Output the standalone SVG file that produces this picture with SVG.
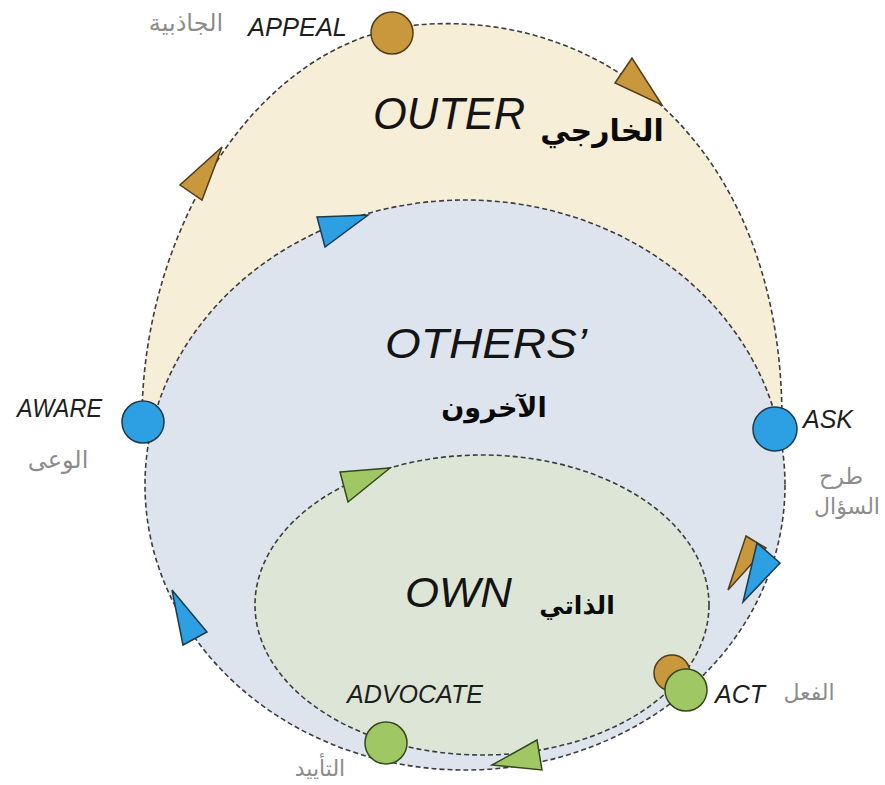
<svg xmlns="http://www.w3.org/2000/svg" width="885" height="785" viewBox="0 0 885 785">
  <style>
    .dash { fill: none; stroke: #3d3d3d; stroke-width: 1.6; stroke-dasharray: 5 3; }
    .lbl { font-family: "Liberation Sans", Arial, sans-serif; font-style: italic; fill: #1e1e1e; }
    .big { font-family: "Liberation Sans", Arial, sans-serif; font-style: italic; fill: #141414; }
    .ar { font-family: "DejaVu Sans", "Noto Sans", sans-serif; fill: #8c8c8c; text-anchor: middle; }
    .arb { font-family: "DejaVu Sans", "Noto Sans", sans-serif; font-weight: bold; fill: #0a0a0a; text-anchor: middle; }
    .tan { fill: #c9983c; stroke: #4e3e1a; stroke-width: 1.5; }
    .blue { fill: #2d9fe3; stroke: #1d3a4a; stroke-width: 1.5; }
    .green { fill: #9fc865; stroke: #34481c; stroke-width: 1.5; }
  </style>

  <rect width="885" height="785" fill="#ffffff"/>

  <!-- regions -->
  <g id="outer">
    <path d="M142,420 C142,230 259,32 430,24 C620,15 782,160 782,420 Z" fill="#f6eed7"/>
  </g>
  <g id="connectors">
    <path class="dash" d="M142,420 C142,230 259,32 430,24 C620,15 782,160 782,420"/>
  </g>
  <g id="others">
    <ellipse cx="465" cy="485" rx="320" ry="285" class="dash" style="fill:#dde4ee"/>
  </g>
  <g id="own">
    <ellipse cx="482" cy="605" rx="227" ry="150" class="dash" style="fill:#dde5d7"/>
  </g>

  <!-- direction arrows along the loops -->
  <g id="arrows">
    <polygon class="tan" points="632,58 615,83 662,105"/>
    <polygon class="tan" points="222,147 180,185 202,200"/>
    <polygon class="blue" points="317,217 368,215 325,247"/>
    <polygon class="green" points="340,472 390,468 348,502"/>
    <polygon class="blue" points="172,590 207,632 183,645"/>
    <polygon class="tan" points="746,536 766,548 728,590"/>
    <polygon class="blue" points="757,543 780,563 743,602"/>
    <polygon class="green" points="492,765 537,740 542,770"/>
  </g>

  <!-- stage nodes -->
  <g id="appeal">
    <circle class="tan" cx="392" cy="33" r="21"/>
    <text class="lbl" x="248" y="36" font-size="26" textLength="99" lengthAdjust="spacingAndGlyphs">APPEAL</text>
    <text class="ar" x="186" y="31" font-size="24">الجاذبية</text>
  </g>
  <g id="aware">
    <circle class="blue" cx="143" cy="422" r="21"/>
    <text class="lbl" x="17" y="417" font-size="26" textLength="85" lengthAdjust="spacingAndGlyphs">AWARE</text>
    <text class="ar" x="58" y="468" font-size="24">الوعى</text>
  </g>
  <g id="ask">
    <circle class="blue" cx="775" cy="429" r="22"/>
    <text class="lbl" x="803" y="428" font-size="26" textLength="50" lengthAdjust="spacingAndGlyphs">ASK</text>
    <text class="ar" x="841" y="484" font-size="22">طرح</text>
    <text class="ar" x="847" y="514" font-size="22">السؤال</text>
  </g>
  <g id="act">
    <circle class="tan" cx="672" cy="673" r="18"/>
    <circle class="green" cx="686" cy="690" r="21"/>
    <text class="lbl" x="715" y="703" font-size="26" textLength="50" lengthAdjust="spacingAndGlyphs">ACT</text>
    <text class="ar" x="809" y="700" font-size="22">الفعل</text>
  </g>
  <g id="advocate">
    <circle class="green" cx="386" cy="743" r="21"/>
    <text class="lbl" x="347" y="703" font-size="26" textLength="136" lengthAdjust="spacingAndGlyphs">ADVOCATE</text>
    <text class="ar" x="320" y="776" font-size="22">التأييد</text>
  </g>

  <!-- region titles -->
  <g id="titles">
    <text class="big" x="373" y="129" font-size="44" textLength="152" lengthAdjust="spacingAndGlyphs">OUTER</text>
    <text class="arb" x="602" y="141" font-size="30">الخارجي</text>
    <text class="big" x="385" y="358" font-size="42" textLength="202" lengthAdjust="spacingAndGlyphs">OTHERS’</text>
    <text class="arb" x="494" y="417" font-size="27">الآخرون</text>
    <text class="big" x="405" y="607" font-size="42" textLength="107" lengthAdjust="spacingAndGlyphs">OWN</text>
    <text class="arb" x="577" y="614" font-size="25">الذاتي</text>
  </g>
</svg>
